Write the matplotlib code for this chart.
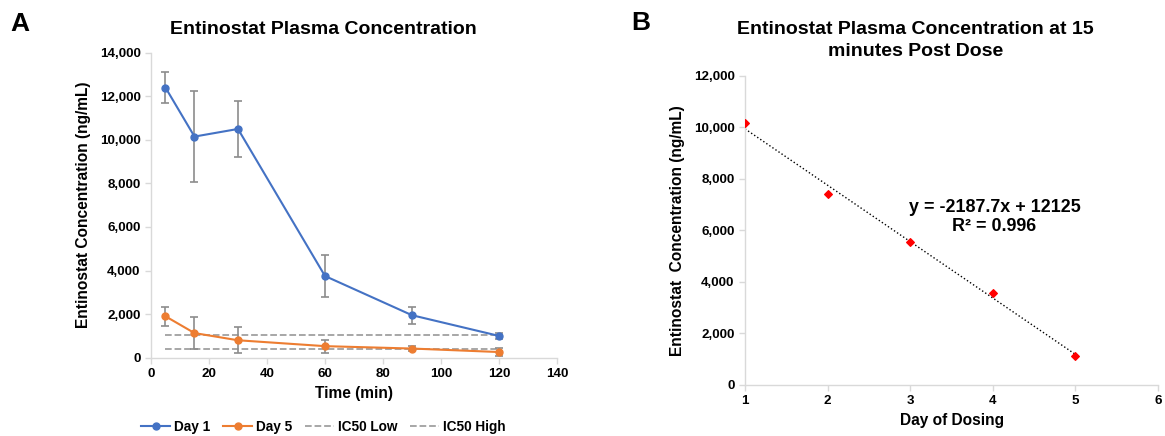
import matplotlib
matplotlib.use("Agg")
import matplotlib.pyplot as plt
import numpy as np
from matplotlib.ticker import FuncFormatter
from matplotlib.lines import Line2D

plt.rcParams['font.family'] = ['Liberation Sans', 'DejaVu Sans']
plt.rcParams['font.weight'] = 'bold'

# Panel A data
time_min = [5, 15, 30, 60, 90, 120]
day1 = [12400, 10150, 10500, 3750, 1950, 1000]
day1_err = [700, 2100, 1300, 960, 400, 150]
day5 = [1900, 1130, 800, 530, 420, 260]
day5_err = [430, 730, 600, 300, 120, 200]
ic50_low = 410
ic50_high = 1060

# Panel B data
dose_day = [1, 2, 3, 4, 5]
conc_15min = [10150, 7420, 5530, 3550, 1130]
slope, intercept = -2187.7, 12125
eq_text = "y = -2187.7x + 12125\nR² = 0.996"

blue = '#4472C4'
orange = '#ED7D31'
errc = '#8c8c8c'
spine_c = '#d9d9d9'
dash_c = '#a0a0a0'

fig = plt.figure(figsize=(11.65, 4.36), dpi=100)
axA = fig.add_axes([0.1296, 0.1796, 0.3485, 0.6995])
axB = fig.add_axes([0.6395, 0.117, 0.3545, 0.7094])

fmt = FuncFormatter(lambda v, p: f"{int(v):,}")

def style(ax):
    for s in ['top', 'right']:
        ax.spines[s].set_visible(False)
    for s in ['left', 'bottom']:
        ax.spines[s].set_color(spine_c)
        ax.spines[s].set_linewidth(1.0)
    ax.tick_params(axis='both', colors=spine_c, labelcolor='black', labelsize=9.6, length=4, width=1)
    ax.yaxis.set_major_formatter(fmt)
    for lab in ax.get_xticklabels() + ax.get_yticklabels():
        lab.set_fontweight('bold')

# Panel A
axA.errorbar(time_min, day1, yerr=day1_err, color=blue, marker='o', ms=5, lw=1.5,
             ecolor=errc, elinewidth=1.2, capsize=3, capthick=1.2, zorder=3)
axA.errorbar(time_min, day5, yerr=day5_err, color=orange, marker='o', ms=5, lw=1.5,
             ecolor=errc, elinewidth=1.2, capsize=3, capthick=1.2, zorder=3)
axA.plot([time_min[0], time_min[-1]], [ic50_low, ic50_low], ls='--', color=dash_c, lw=1.3, zorder=2)
axA.plot([time_min[0], time_min[-1]], [ic50_high, ic50_high], ls='--', color=dash_c, lw=1.3, zorder=2)
axA.set_xlim(0, 140)
axA.set_ylim(0, 14000)
axA.set_xticks(np.arange(0, 141, 20))
axA.set_yticks(np.arange(0, 14001, 2000))
style(axA)
axA.set_xlabel('Time (min)', fontsize=11.2, fontweight='bold', labelpad=4)
axA.set_ylabel('Entinostat Concentration (ng/mL)', fontsize=11.2, fontweight='bold', labelpad=6)
fig.text(0.278, 0.933, 'Entinostat Plasma Concentration', fontsize=14, fontweight='bold',
         ha='center', va='center')

handles = [Line2D([], [], color=blue, marker='o', ms=5, lw=1.5),
           Line2D([], [], color=orange, marker='o', ms=5, lw=1.5),
           Line2D([], [], color=dash_c, ls='--', lw=1.3),
           Line2D([], [], color=dash_c, ls='--', lw=1.3)]
fig.legend(handles=handles, labels=['Day 1', 'Day 5', 'IC50 Low', 'IC50 High'],
           loc='center', bbox_to_anchor=(0.2777, 0.0206), ncol=4, frameon=False,
           handlelength=2.15, columnspacing=0.9, handletextpad=0.3,
           borderpad=0, borderaxespad=0,
           prop={'weight': 'bold', 'size': 9.8})

# Panel B
axB.scatter(dose_day, conc_15min, marker='D', color='#ff0000', s=15, zorder=3)
xs = np.array([dose_day[0], dose_day[-1]])
axB.plot(xs, slope * xs + intercept, ls=':', color='black', lw=1.0, zorder=2)
axB.set_xlim(1, 6)
axB.set_ylim(0, 12000)
axB.set_xticks(np.arange(1, 7, 1))
axB.set_yticks(np.arange(0, 12001, 2000))
style(axB)
axB.set_xlabel('Day of Dosing', fontsize=11.2, fontweight='bold', labelpad=4)
axB.set_ylabel('Entinostat  Concentration (ng/mL)', fontsize=11.2, fontweight='bold', labelpad=6)
fig.text(0.786, 0.908, 'Entinostat Plasma Concentration at 15\nminutes Post Dose', fontsize=14,
         fontweight='bold', ha='center', va='center', linespacing=1.4)
axB.text(4.02, 6500, eq_text, ha='center', va='center', fontsize=12.9, fontweight='bold',
         linespacing=1.15)

fig.text(0.0086, 0.945, 'A', fontsize=19, fontweight='bold', va='center', ha='left')
fig.text(0.5415, 0.948, 'B', fontsize=19, fontweight='bold', va='center', ha='left')

fig.savefig('out.png', dpi=100)
